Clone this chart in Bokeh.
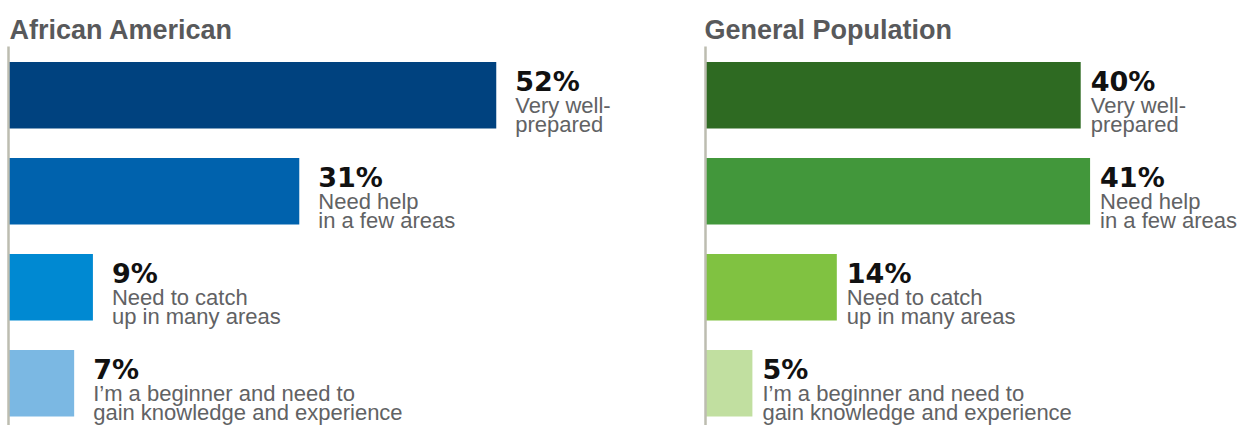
from bokeh.plotting import figure
from bokeh.models import ColumnDataSource, Range1d, FixedTicker
from bokeh.layouts import row
from bokeh.embed import file_html
from bokeh.resources import INLINE
from bokeh.core.properties import value

# ---- data ----
categories = [
    "Very well-\nprepared",
    "Need help\nin a few areas",
    "Need to catch\nup in many areas",
    "I\u2019m a beginner and need to\ngain knowledge and experience",
]
aa_values = [52, 31, 9, 7]
gp_values = [40, 41, 14, 5]
aa_colors = ["#00427f", "#0062ad", "#0089d2", "#7bb8e3"]
gp_colors = ["#2e6a22", "#42973b", "#80c241", "#c1dfa0"]
panel_titles = ["African American", "General Population"]

# ---- layout constants ----
PX_PER_PCT = 9.38
BAND_PX = 96.0
BAR_PX = 66.7
TOP_BORDER = 46
FRAME_H = 379


def make_panel(title, values, colors, frame_w, left_border, label_dx, title_dx):
    idx = list(range(len(categories)))
    line1 = [c.split("\n")[0] for c in categories]
    line2 = [c.split("\n")[1] for c in categories]
    pct = [f"{v}%" for v in values]
    src = ColumnDataSource(dict(idx=idx, v=values, color=colors, pct=pct,
                                l1=line1, l2=line2))
    y_end = -0.508
    y_start = y_end + FRAME_H / BAND_PX
    p = figure(frame_width=frame_w, frame_height=FRAME_H,
               x_range=Range1d(0, frame_w / PX_PER_PCT),
               y_range=Range1d(y_start, y_end),
               output_backend="svg", toolbar_location=None,
               min_border_left=left_border, min_border_right=0,
               min_border_top=TOP_BORDER, min_border_bottom=0,
               title=title)
    p.hbar(y="idx", left=0, right="v", height=BAR_PX / BAND_PX,
           fill_color="color", line_color=None, source=src)
    p.text(x="v", y="idx", text="pct", source=src,
           x_offset=label_dx, y_offset=-14,
           text_font=value("DejaVu Sans"), text_font_style="bold",
           text_font_size="27px", text_color="#111111",
           text_align="left", text_baseline="alphabetic")
    for col, dy in (("l1", 10.5), ("l2", 29.5)):
        p.text(x="v", y="idx", text=col, source=src,
               x_offset=label_dx, y_offset=dy,
               text_font=value("Liberation Sans"),
               text_font_size="22px", text_color="#616264",
               text_align="left", text_baseline="alphabetic")

    p.title.text_font = "Liberation Sans"
    p.title.text_font_style = "bold"
    p.title.text_font_size = "27px"
    p.title.text_color = "#58595b"
    p.title.align = "left"
    p.title.offset = title_dx
    p.title.standoff = 4

    p.xaxis.visible = False
    p.yaxis.ticker = FixedTicker(ticks=[])
    p.yaxis.major_tick_line_color = None
    p.yaxis.minor_tick_line_color = None
    p.yaxis.major_label_standoff = 0
    p.yaxis.axis_line_color = "#bdbdb0"
    p.yaxis.axis_line_width = 2.5
    p.grid.visible = False
    p.outline_line_color = None
    p.background_fill_color = "white"
    p.border_fill_color = "white"
    return p


p1 = make_panel(panel_titles[0], aa_values, aa_colors, 688, 8, 19, 1)
p2 = make_panel(panel_titles[1], gp_values, gp_colors, 536, 9, 10, -1)
layout = row(p1, p2)

open("out.html", "w").write(file_html(layout, INLINE))
